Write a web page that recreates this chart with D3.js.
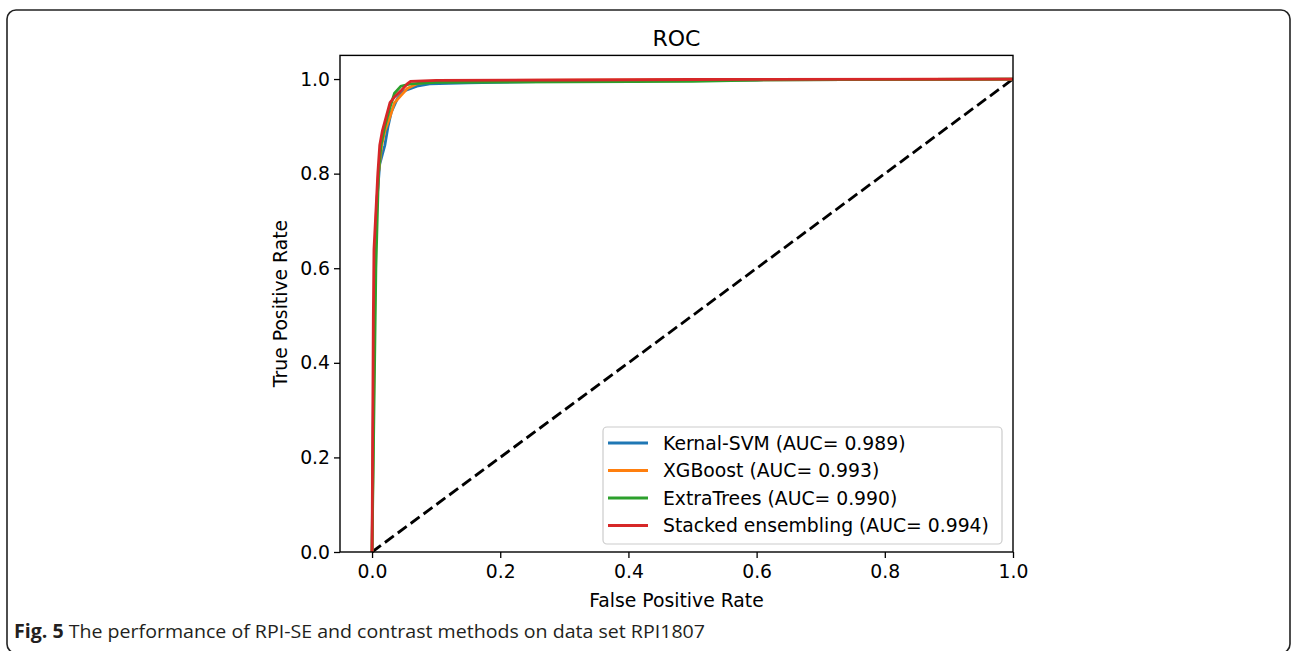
<!DOCTYPE html>
<html><head><meta charset="utf-8">
<script src="https://cdn.jsdelivr.net/npm/d3@7/dist/d3.min.js"></script>
<style>body{margin:0;background:#fff}svg{display:block}</style>
</head><body>
<svg id="c" width="1292" height="651"></svg>
<script>
const seriesNames = ["Kernal-SVM (AUC= 0.989)","XGBoost (AUC= 0.993)","ExtraTrees (AUC= 0.990)","Stacked ensembling (AUC= 0.994)"];
const seriesColors = ["#1f77b4","#ff7f0e","#2ca02c","#d62728"];
const svmFPR = [0,0.002,0.004,0.008,0.012,0.016,0.02,0.025,0.03,0.04,0.05,0.07,0.09,0.15,0.28,0.4,0.6,1];
const svmTPR = [0,0.3,0.6,0.75,0.82,0.84,0.86,0.9,0.93,0.96,0.975,0.985,0.99,0.992,0.995,0.997,0.998,1];
const xgbFPR = [0,0.003,0.006,0.01,0.015,0.02,0.028,0.035,0.045,0.055,0.07,0.09,0.2,1];
const xgbTPR = [0,0.4,0.7,0.8,0.86,0.89,0.92,0.95,0.965,0.98,0.99,0.995,0.997,1];
const etFPR = [0,0.003,0.006,0.008,0.01,0.014,0.02,0.028,0.035,0.045,0.06,0.1,0.5,0.6,1];
const etTPR = [0,0.3,0.6,0.7,0.8,0.86,0.9,0.94,0.97,0.985,0.99,0.993,0.995,0.998,1];
const seFPR = [0,0.001,0.002,0.003,0.006,0.009,0.012,0.016,0.022,0.028,0.035,0.045,0.055,0.06,0.1,0.3,0.5,1];
const seTPR = [0,0.25,0.5,0.64,0.72,0.8,0.86,0.89,0.92,0.95,0.962,0.975,0.99,0.995,0.997,0.998,0.999,1];
const xTicks = [0,0.2,0.4,0.6,0.8,1.0];
const yTicks = [0,0.2,0.4,0.6,0.8,1.0];
const series = [[svmFPR,svmTPR],[xgbFPR,xgbTPR],[etFPR,etTPR],[seFPR,seTPR]];

const svg = d3.select("#c");
const F = "DejaVu Sans";
const FS = 18.8;
svg.append("rect").attr("x",7).attr("y",10).attr("width",1283).attr("height",643)
  .attr("rx",9).attr("fill","none").attr("stroke","#222").attr("stroke-width",1.6);

const x = d3.scaleLinear().domain([-0.05,1.0]).range([340,1013]);
const y = d3.scaleLinear().domain([0,1.05]).range([552,55.4]);

const plot = svg.append("g");
plot.append("clipPath").attr("id","clip").append("rect")
  .attr("x",340).attr("y",55).attr("width",673).attr("height",497);

const line = d3.line().x(d=>x(d[0])).y(d=>y(d[1]));
plot.append("path").attr("d",line([[0,0],[1,1]])).attr("fill","none")
  .attr("stroke","#000").attr("stroke-width",2.8).attr("stroke-dasharray","11,5");
series.forEach((s,i)=>{
  const pts = s[0].map((v,j)=>[v,s[1][j]]);
  plot.append("path").attr("d",line(pts)).attr("fill","none")
    .attr("stroke",seriesColors[i]).attr("stroke-width",2.8).attr("clip-path","url(#clip)");
});

const xa = svg.append("g").attr("transform","translate(0,552)")
  .call(d3.axisBottom(x).tickValues(xTicks).tickFormat(d3.format(".1f")).tickSize(6).tickSizeOuter(0));
const ya = svg.append("g").attr("transform","translate(340,0)")
  .call(d3.axisLeft(y).tickValues(yTicks).tickFormat(d3.format(".1f")).tickSize(6).tickSizeOuter(0));
[xa,ya].forEach(a=>{
  a.select(".domain").remove();
  a.selectAll("line").attr("stroke","#000").attr("stroke-width",1.3);
  a.selectAll("text").attr("font-family",F).attr("font-size",FS).attr("fill","#000");
});
xa.selectAll("text").attr("dy","0.71em").attr("y",13);
ya.selectAll("text").attr("x",-10);
svg.append("rect").attr("x",340).attr("y",55.4).attr("width",673).attr("height",496.6)
  .attr("fill","none").attr("stroke","#000").attr("stroke-width",1.4);

svg.append("text").attr("x",676.5).attr("y",46).attr("text-anchor","middle")
  .attr("font-family",F).attr("font-size",22).text("ROC");
svg.append("text").attr("x",676.5).attr("y",607).attr("text-anchor","middle")
  .attr("font-family",F).attr("font-size",FS).text("False Positive Rate");
svg.append("text").attr("transform","translate(287,303.5) rotate(-90)").attr("text-anchor","middle")
  .attr("font-family",F).attr("font-size",FS).text("True Positive Rate");

const lg = svg.append("g");
lg.append("rect").attr("x",603).attr("y",427).attr("width",399).attr("height",117).attr("rx",4)
  .attr("fill","#fff").attr("fill-opacity",0.8).attr("stroke","#ccc").attr("stroke-width",1.2);
seriesNames.forEach((n,i)=>{
  const yy = 443 + i*27.5;
  lg.append("line").attr("x1",608).attr("x2",648).attr("y1",yy).attr("y2",yy)
    .attr("stroke",seriesColors[i]).attr("stroke-width",2.8);
  lg.append("text").attr("x",663).attr("y",yy).attr("dy","0.35em")
    .attr("font-family",F).attr("font-size",FS).text(n);
});

const cap = svg.append("text").attr("x",14).attr("y",638).attr("font-family","Open Sans")
  .attr("font-size",19).attr("fill","#231f20").attr("textLength",691).attr("lengthAdjust","spacingAndGlyphs");
cap.append("tspan").attr("font-weight","bold").text("Fig. 5");
cap.append("tspan").text(" The performance of RPI-SE and contrast methods on data set RPI1807");
</script>
</body></html>
